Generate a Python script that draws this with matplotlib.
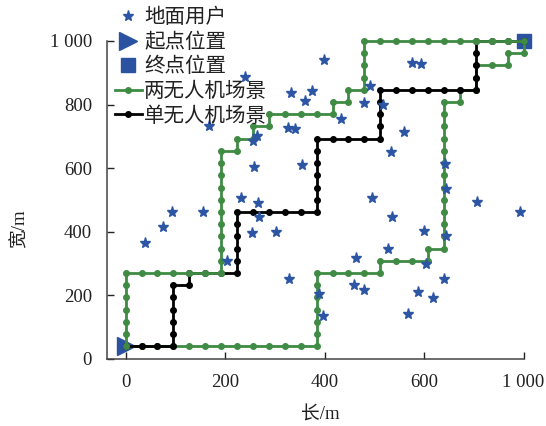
import matplotlib
matplotlib.use('Agg')
import matplotlib.pyplot as plt
from matplotlib.lines import Line2D

plt.rcParams['font.family'] = ['Liberation Serif', 'Noto Sans CJK SC']
plt.rcParams['font.size'] = 13.5

# ground users (x, y) in metres
user_x = [301, 415, 209.7, 409, 426, 329.7, 321, 323, 443.7, 289.4,
          333, 336, 318, 377.5, 116.5, 195.4, 94.7, 49.4, 254, 411,
          485.8, 495.8, 497.4, 719.8, 743.3, 469.7, 451.3, 613, 599, 647.6,
          541, 700.5, 667.8, 803.7, 804.5, 619, 883.5, 992.4, 670, 749,
          806, 660, 755.8, 799.4, 579.6, 574.6, 599, 735.7, 772.7, 709.8]
user_y = [887.5, 836, 731.5, 726, 723, 702, 687, 603, 609.6, 506,
          490.5, 447, 395, 400, 462, 462, 414.7, 365, 308, 251.4,
          205.3, 134.6, 940, 930.5, 928.6, 842, 810.5, 858, 805.4, 798,
          755, 714, 649.4, 613.7, 534, 507, 493.7, 462, 445, 404,
          386.3, 347.4, 298.8, 251.4, 317.7, 233.7, 218, 211.6, 192.7, 140]

start_pt = (0, 40)
end_pt = (1000, 1000)
grid_step = (40, 38.4)

# UAV trajectories as grid moves (R = right, U = up)
path_two_a = "U6 R6 U10 R1 U1 R1 U1 R1 U1 R4 U1 R1 U1 R1 U4 R10"
path_two_b = "R12 U6 R4 U1 R3 U1 R1 U12 R1 U1 R1 U2 R2 U1 R1 U1"
path_single = "R3 U5 R1 U1 R3 U5 R5 U6 R4 U4 R6 U4 R3"

xticks = [0, 250, 500, 750, 1000]
xticklabels = ['0', '200', '400', '600', '1 000']
yticks = [0, 200, 400, 600, 800, 1000]
yticklabels = ['0', '200', '400', '600', '800', '1 000']

labels = ['地面用户', '起点位置', '终点位置', '两无人机场景', '单无人机场景']

GREEN = '#3f8b44'
BLUE = '#2a52a0'


def walk(moves):
    xs = [start_pt[0]]
    ys = [start_pt[1]]
    for m in moves.split():
        d, n = m[0], int(m[1:])
        for _ in range(n):
            if d == 'R':
                xs.append(xs[-1] + grid_step[0])
                ys.append(ys[-1])
            else:
                xs.append(xs[-1])
                ys.append(ys[-1] + grid_step[1])
    return xs, ys


fig = plt.figure(figsize=(5.46, 4.26), dpi=100)
ax = fig.add_axes([0.1965, 0.1573, 0.7623, 0.7465])

ax.plot([start_pt[0]], [start_pt[1]], marker='>', color=BLUE, ms=13,
        linestyle='none', clip_on=False, zorder=2)
ax.plot([end_pt[0]], [end_pt[1]], marker='s', color=BLUE, ms=10,
        linestyle='none', clip_on=False, zorder=2)

bx, by = walk(path_two_b)
ax.plot(bx, by, color=GREEN, lw=2, marker='o', ms=4, clip_on=False, zorder=3)
sx, sy = walk(path_single)
ax.plot(sx, sy, color='black', lw=2, marker='o', ms=4, clip_on=False, zorder=4)
axx, axy = walk(path_two_a)
ax.plot(axx, axy, color=GREEN, lw=2, marker='o', ms=4, clip_on=False, zorder=5)

ax.plot(user_x, user_y, linestyle='none', marker='*', color='#2c55a3',
        ms=8, zorder=6, clip_on=False)

ax.set_xlim(-46, 1000)
ax.set_ylim(0, 1000)
ax.set_xticks(xticks)
ax.set_xticklabels(xticklabels)
ax.set_yticks(yticks)
ax.set_yticklabels(yticklabels)
ax.tick_params(direction='in', length=5, width=1, pad=11, colors='#222222',
               labelsize=13.5)
for s in ['top', 'right']:
    ax.spines[s].set_visible(False)
for s in ['left', 'bottom']:
    ax.spines[s].set_color('#444444')
    ax.spines[s].set_linewidth(1.1)

ax.set_xlabel('长/m', fontsize=13.5, color='#222222')
ax.set_ylabel('宽/m', fontsize=13.5, color='#222222')
ax.xaxis.set_label_coords(0.511, -0.148)
ax.yaxis.set_label_coords(-0.19, 0.41)

handles = [
    Line2D([], [], linestyle='none', marker='*', color='#2c55a3', ms=8),
    Line2D([], [], linestyle='none', marker='>', color=BLUE, ms=13),
    Line2D([], [], linestyle='none', marker='s', color=BLUE, ms=10),
    Line2D([], [], color=GREEN, lw=2, marker='o', ms=4),
    Line2D([], [], color='black', lw=2, marker='o', ms=4),
]
leg = fig.legend(handles, labels, loc='upper left',
                 bbox_to_anchor=(115 / 546, 1 - 9 / 426),
                 bbox_transform=fig.transFigure, frameon=False,
                 borderpad=0, borderaxespad=0, handlelength=1.3,
                 handletextpad=0.12, labelspacing=0.25, fontsize=14.8,
                 numpoints=1)
for t in leg.get_texts():
    t.set_color('#222222')

fig.savefig('out.png', dpi=100)
